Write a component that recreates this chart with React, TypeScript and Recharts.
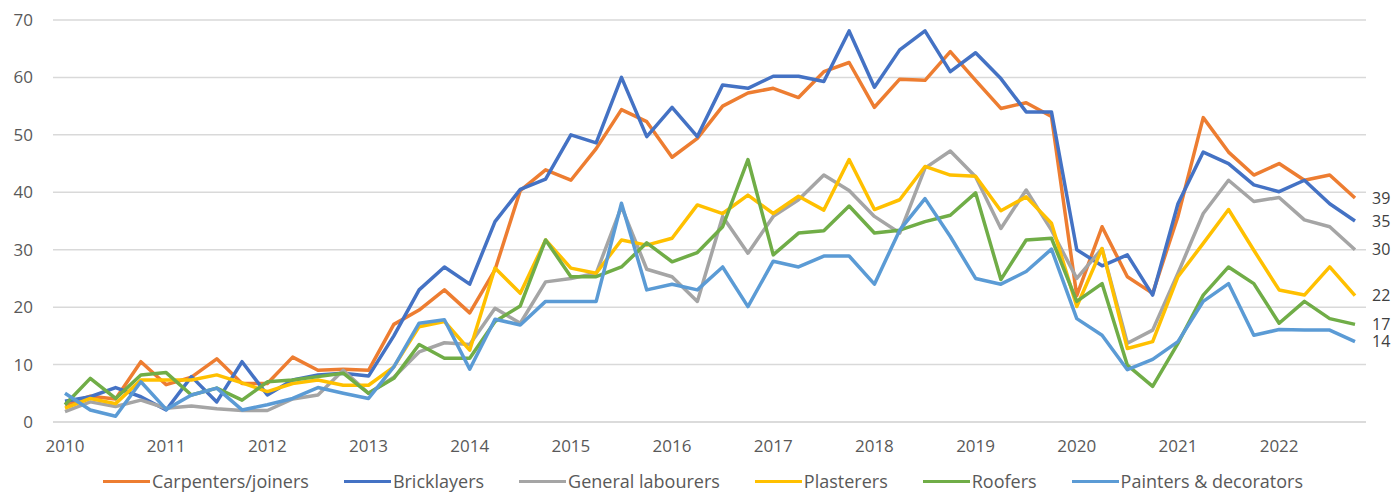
import { LineChart, Line, XAxis, YAxis, CartesianGrid, Legend, LabelList } from 'recharts'

const YEARS = ['2010', '2011', '2012', '2013', '2014', '2015', '2016', '2017', '2018', '2019', '2020', '2021', '2022']
const QUARTERS = ['Q1', 'Q2', 'Q3', 'Q4']
const Y_TICKS = [0, 10, 20, 30, 40, 50, 60, 70]

const carpenters = [
  3, 4.5, 4, 10.5, 6.5, 7.8, 11, 6.7, 6.7, 11.3, 9, 9.2, 9, 17, 19.5, 23, 19, 26.5, 40.3, 43.9, 42.1, 47.6, 54.4, 52.3,
  46.1, 49.4, 55, 57.3, 58.1, 56.5, 61, 62.6, 54.8, 59.7, 59.5, 64.5, 59.5, 54.6, 55.6, 53.2, 22, 34, 25.3, 22.4, 35.8,
  53, 47, 43, 45, 42.1, 43, 39,
]
const bricklayers = [
  3.6, 4.4, 6, 4.4, 2.1, 7.9, 3.5, 10.5, 4.7, 7.3, 8.2, 8.5, 8, 15, 23, 27, 24, 34.9, 40.5, 42.3, 50, 48.6, 60, 49.7,
  54.8, 49.7, 58.7, 58.1, 60.2, 60.2, 59.3, 68.1, 58.3, 64.8, 68.1, 61, 64.3, 59.8, 54, 54, 30, 27.2, 29.1, 22.1, 38, 47,
  45, 41.3, 40.1, 42.1, 38, 35,
]
const labourers = [
  1.8, 3.5, 2.7, 3.8, 2.4, 2.8, 2.3, 2, 2, 4, 4.7, 9, 5, 7.8, 12.2, 13.8, 13.5, 19.8, 17.2, 24.4, 25, 25.9, 37.5, 26.6,
  25.3, 21, 35.8, 29.4, 35.8, 38.7, 43, 40.3, 35.8, 32.9, 44.2, 47.2, 42.7, 33.7, 40.4, 33.4, 25, 30.2, 13.7, 16, 25.9,
  36.3, 42.1, 38.4, 39.1, 35.2, 34, 30,
]
const plasterers = [
  2.4, 4.1, 3.2, 7.3, 7.3, 7.3, 8.2, 6.8, 5.3, 6.7, 7.3, 6.4, 6.4, 9.6, 16.6, 17.5, 12.5, 26.8, 22.4, 31.7, 26.8, 25.9,
  31.7, 30.8, 32, 37.8, 36.3, 39.5, 36.3, 39.3, 36.9, 45.7, 37, 38.7, 44.5, 43, 42.8, 36.8, 39.2, 34.6, 20.1, 30.2, 12.8,
  14, 25.3, 31.1, 37, 29.9, 23, 22.1, 27, 22,
]
const roofers = [
  3, 7.6, 4.1, 8.2, 8.6, 4.7, 5.9, 3.8, 7, 7.3, 7.9, 8.5, 5, 7.6, 13.5, 11.1, 11.1, 17.5, 20.2, 31.7, 25.3, 25.3, 27,
  31.2, 27.9, 29.5, 34, 45.7, 29.1, 32.9, 33.3, 37.6, 32.9, 33.4, 34.9, 36, 39.9, 24.8, 31.7, 32, 21, 24.1, 9.9, 6.2,
  13.7, 22.1, 27, 24.1, 17.2, 21, 18, 17,
]
const painters = [
  5, 2.1, 1, 7, 2.2, 4.7, 5.9, 2.1, 3, 4.1, 6, 5, 4.1, 9.6, 17.2, 17.8, 9.2, 17.9, 16.9, 21, 21, 21, 38.1, 23, 24, 23, 27,
  20.1, 28, 27, 28.9, 28.9, 24, 33.4, 38.9, 32.3, 25, 24, 26.2, 30.1, 18, 15.1, 9.1, 10.9, 14, 21, 24.1, 15.1, 16.1, 16,
  16, 14,
]

const SERIES = [
  { key: 'carpenters', name: 'Carpenters/joiners', color: '#ED7D31', values: carpenters },
  { key: 'bricklayers', name: 'Bricklayers', color: '#4472C4', values: bricklayers },
  { key: 'labourers', name: 'General labourers', color: '#A5A5A5', values: labourers },
  { key: 'plasterers', name: 'Plasterers', color: '#FFC000', values: plasterers },
  { key: 'roofers', name: 'Roofers', color: '#70AD47', values: roofers },
  { key: 'painters', name: 'Painters & decorators', color: '#5B9BD5', values: painters },
]

const quarters = YEARS.flatMap((y) => QUARTERS.map((q) => `${y} ${q}`))

const data = quarters.map((quarter, i) => {
  const row: Record<string, string | number> = { quarter }
  SERIES.forEach((s) => {
    row[s.key] = s.values[i]
  })
  return row
})

const FONT = '"Open Sans", "Liberation Sans", sans-serif'
const LAST = quarters.length - 1

function formatYear(v: string): string {
  return v.endsWith('Q1') ? v.slice(0, 4) : ''
}

function EndLabel(props: any) {
  const { x, y, value, index } = props
  if (index !== LAST) return null
  return (
    <text x={x + 17} y={y} dy="0.36em" fontSize={16} fill="#404040" fontFamily={FONT}>
      {Math.round(value)}
    </text>
  )
}

function renderLegend() {
  return (
    <div
      style={{
        display: 'flex',
        justifyContent: 'center',
        height: 18,
        lineHeight: '18px',
        fontSize: 18,
        color: '#595959',
        fontFamily: FONT,
        whiteSpace: 'nowrap',
        position: 'relative',
        left: 20,
        top: -2,
      }}
    >
      {SERIES.map((s, i) => (
        <div key={s.key} style={{ display: 'flex', alignItems: 'center', marginRight: i === SERIES.length - 1 ? 0 : 35 }}>
          <span style={{ display: 'inline-block', width: 47, height: 3, background: s.color, marginRight: 2 }} />
          <span>{s.name}</span>
        </div>
      ))}
    </div>
  )
}

export default function App() {
  return (
    <>
      <style>{'body { margin: 0; overflow: hidden; }'}</style>
      <LineChart width={1394} height={492} data={data} margin={{ top: 20, right: 28, bottom: 0, left: 0 }}>
        <CartesianGrid vertical={false} stroke="#D9D9D9" strokeWidth={1.5} />
        <XAxis
          dataKey="quarter"
          interval={0}
          tickFormatter={formatYear}
          tick={{ fill: '#595959', fontSize: 17, fontFamily: FONT }}
          axisLine={{ stroke: '#D9D9D9', strokeWidth: 1.5 }}
          tickLine={false}
          tickMargin={12}
          height={52}
          padding={{ left: 12, right: 11 }}
        />
        <YAxis
          domain={[0, 70]}
          ticks={Y_TICKS}
          tick={{ fill: '#595959', fontSize: 17, fontFamily: FONT }}
          axisLine={false}
          tickLine={false}
          tickMargin={14}
          width={53}
        />
        <Legend verticalAlign="bottom" content={renderLegend} />
        {SERIES.map((s) => (
          <Line
            key={s.key}
            type="linear"
            dataKey={s.key}
            name={s.name}
            stroke={s.color}
            strokeWidth={3.5}
            strokeLinejoin="round"
            dot={false}
            activeDot={false}
            isAnimationActive={false}
          >
            <LabelList dataKey={s.key} content={EndLabel} />
          </Line>
        ))}
      </LineChart>
    </>
  )
}
